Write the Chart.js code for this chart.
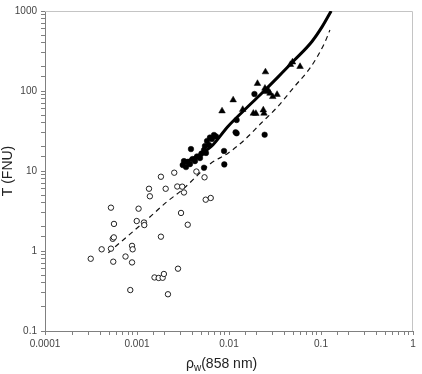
<!DOCTYPE html>
<html>
<head>
<meta charset="utf-8">
<script src="https://cdn.jsdelivr.net/npm/chart.js@4/dist/chart.umd.min.js"></script>
<style>
html,body{margin:0;padding:0;background:#fff;}
#c{display:block;}
</style>
</head>
<body>
<canvas id="c" width="422" height="374" style="width:422px;height:374px"></canvas>
<script>
// Open circles
const openX = [3.14e-4,4.13e-4,5.21e-4,5.21e-4,5.45e-4,5.6e-4,5.62e-4,5.52e-4,7.5e-4,8.83e-4,8.97e-4,8.83e-4,8.45e-4,9.93e-4,1.04e-3,1.19e-3,1.2e-3,1.35e-3,1.38e-3,1.82e-3,1.55e-3,1.72e-3,1.9e-3,1.96e-3,2.17e-3,2.05e-3,2.79e-3,3.01e-3,3.24e-3,3.56e-3,2.74e-3,3.1e-3,5.58e-3,6.33e-3,1.82e-3,2.54e-3,4.42e-3,5.42e-3];
const openY = [0.80,1.05,3.48,1.07,1.42,1.48,2.18,0.735,0.853,1.16,1.05,0.72,0.325,2.37,3.38,2.27,2.11,6.0,4.83,1.51,0.467,0.46,0.463,0.516,0.288,6.0,0.601,2.99,5.39,2.13,6.4,6.37,4.38,4.6,8.48,9.52,9.85,8.34];
// Filled circles
const filledX = [3.14e-3,3.24e-3,3.41e-3,3.54e-3,3.77e-3,3.86e-3,4.01e-3,4.27e-3,4.49e-3,4.84e-3,5.02e-3,5.35e-3,5.62e-3,5.48e-3,5.77e-3,6.07e-3,6.21e-3,6.53e-3,6.87e-3,7.23e-3,5.35e-3,8.83e-3,8.89e-3,1.21e-2,1.18e-2,2.44e-2,1.89e-2,1.21e-2];
const filledY = [11.9,13.3,11.2,13.0,12.2,18.8,14.1,13.3,15.2,14.5,16.5,18.3,16.8,20.5,23.7,21.1,26.2,25.1,28.2,27.0,11.0,17.8,12.1,29.6,30.5,28.4,91.7,43.4];
// Filled triangles
const triX = [8.4e-3,1.11e-2,1.41e-2,1.84e-2,1.96e-2,2.36e-2,2.40e-2,2.04e-2,2.49e-2,2.46e-2,2.57e-2,2.79e-2,2.99e-2,3.33e-2,4.9e-2,4.65e-2,5.92e-2,2.65e-2];
const triY = [56.2,77.2,58.7,52.6,52.3,57.9,52.6,124,173,108,98,93.6,84.9,90.4,230,214,202,103];
// Solid fitted curve
const solidX = [3.16e-3,6.37e-3,9.68e-3,1.47e-2,2.23e-2,3.38e-2,5.09e-2,7.98e-2,1.03e-1,1.29e-1];
const solidY = [12.4,20.1,35.8,57.9,91.7,148,240,416,637,1000];
// Dashed fitted curve
const dashX = [4.88e-4,7.73e-4,1.38e-3,2.10e-3,3.06e-3,6.37e-3,9.68e-3,1.47e-2,2.23e-2,3.38e-2,5.13e-2,7.78e-2,1.09e-1,1.25e-1];
const dashY = [0.953,1.50,2.66,4.10,5.74,12.5,16.6,24.4,39.5,63.7,113,201,395,579];
// Tick labels
const xTickLabels = ["0.0001","0.001","0.01","0.1","1"];
const yTickLabels = ["0.1","1","10","100","1000"];

const pts = (xs, ys) => xs.map((x, i) => ({x: x, y: ys[i]}));

function decadeLabel(list) {
  return function(v) {
    const l = Math.log10(v), r = Math.round(l);
    if (Math.abs(l - r) < 1e-6) {
      const s = String(Number(Math.pow(10, r).toPrecision(1)));
      return list.includes(s) ? s : '';
    }
    return '';
  };
}

const FONT = '"Liberation Sans", Arial, sans-serif';

const framePlugin = {
  id: 'frame',
  beforeDatasetsDraw(chart) {
    const a = chart.chartArea, c = chart.ctx;
    c.save();
    c.strokeStyle = '#c4c4c4';
    c.lineWidth = 1;
    c.beginPath();
    c.moveTo(a.left, a.top + 0.5);
    c.lineTo(a.right - 0.5, a.top + 0.5);
    c.lineTo(a.right - 0.5, a.bottom);
    c.stroke();
    c.restore();
  },
  afterDraw(chart) {
    const a = chart.chartArea, c = chart.ctx;
    c.save();
    c.fillStyle = '#222';
    c.textBaseline = 'alphabetic';
    let x = (a.left + a.right) / 2 - 43;
    const y = 368;
    c.font = '14px ' + FONT;
    c.fillText('\u03C1', x, y);
    x += c.measureText('\u03C1').width;
    c.font = '10px ' + FONT;
    c.fillText('w', x, y + 3);
    x += c.measureText('w').width;
    c.font = '14px ' + FONT;
    c.fillText('(858 nm)', x, y);
    c.restore();
  }
};

new Chart(document.getElementById('c'), {
  type: 'scatter',
  data: {
    datasets: [
      { label: 'open', data: pts(openX, openY), pointStyle: 'circle', pointRadius: 2.7,
        backgroundColor: '#fff', borderColor: '#222', borderWidth: 1, showLine: false },
      { label: 'filled', data: pts(filledX, filledY), pointStyle: 'circle', pointRadius: 2.8,
        backgroundColor: '#000', borderColor: '#000', borderWidth: 0.5, showLine: false },
      { label: 'tri', data: pts(triX, triY), pointStyle: 'triangle', pointRadius: 3.8,
        backgroundColor: '#000', borderColor: '#000', borderWidth: 0.5, showLine: false },
      { label: 'solid', data: pts(solidX, solidY), showLine: true, pointRadius: 0,
        borderColor: '#000', borderWidth: 3, cubicInterpolationMode: 'monotone', fill: false },
      { label: 'dash', data: pts(dashX, dashY), showLine: true, pointRadius: 0,
        borderColor: '#111', borderWidth: 1.2, borderDash: [5, 4], cubicInterpolationMode: 'monotone', fill: false }
    ]
  },
  options: {
    responsive: false,
    devicePixelRatio: 1,
    animation: false,
    events: [],
    layout: { padding: { left: 0, right: 9, top: 11, bottom: 0 } },
    plugins: { legend: { display: false }, tooltip: { enabled: false } },
    scales: {
      x: {
        type: 'logarithmic', min: 0.0001, max: 1,
        afterFit(s) { s.height = 43; },
        border: { display: true, color: '#808080', width: 1 },
        grid: { drawOnChartArea: false, drawTicks: true, tickLength: 4, color: '#808080' },
        ticks: { autoSkip: false, maxRotation: 0, padding: 3, color: '#444',
                 font: { family: FONT, size: 10 }, callback: decadeLabel(xTickLabels) },
        title: { display: false }
      },
      y: {
        type: 'logarithmic', min: 0.1, max: 1000,
        afterFit(s) { s.width = 45; },
        border: { display: true, color: '#808080', width: 1 },
        grid: { drawOnChartArea: false, drawTicks: true, tickLength: 4, color: '#808080' },
        ticks: { autoSkip: false, padding: 4, color: '#444',
                 font: { family: FONT, size: 10 }, callback: decadeLabel(yTickLabels) },
        title: { display: true, text: 'T (FNU)', color: '#222', padding: { top: 0, bottom: 0 },
                 font: { family: FONT, size: 14 } }
      }
    }
  },
  plugins: [framePlugin]
});
</script>
</body>
</html>
